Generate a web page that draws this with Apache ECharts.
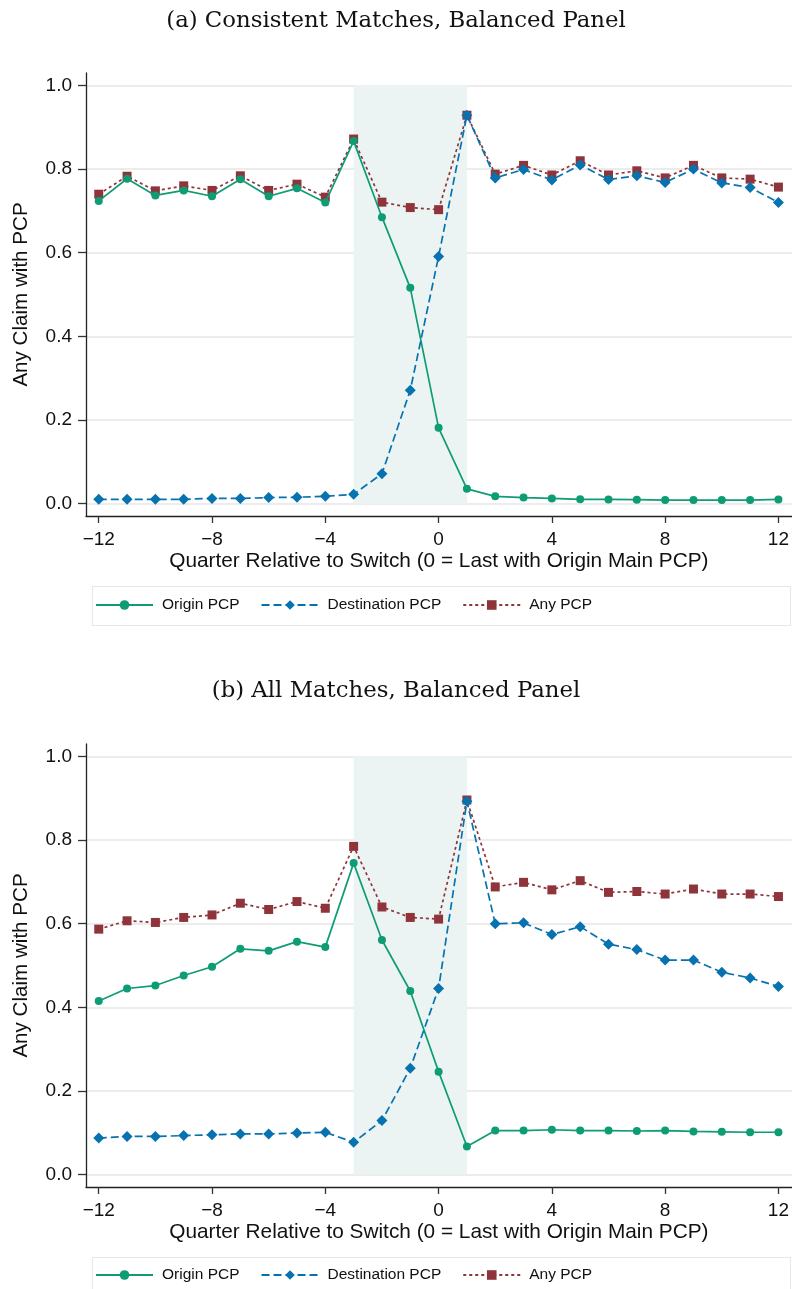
<!DOCTYPE html>
<html>
<head>
<meta charset="utf-8">
<script src="https://cdn.jsdelivr.net/npm/echarts@6/dist/echarts.min.js"></script>
<style>
  html, body { margin: 0; padding: 0; background: #fff; }
  #chart { width: 792px; height: 1289px; }
</style>
</head>
<body>
<div id="chart"></div>
<script>
// quarter relative to switch
const quarters = [-12, -11, -10, -9, -8, -7, -6, -5, -4, -3, -2, -1, 0, 1, 2, 3, 4, 5, 6, 7, 8, 9, 10, 11, 12];
const xTicks = [-12, -8, -4, 0, 4, 8, 12];
const yTicks = [0, 0.2, 0.4, 0.6, 0.8, 1.0];

// (a) consistent matches
const originA = [0.724, 0.777, 0.737, 0.749, 0.735, 0.776, 0.735, 0.754, 0.720, 0.867, 0.685, 0.516, 0.181, 0.035, 0.017, 0.014, 0.012, 0.010, 0.0096, 0.009, 0.008, 0.008, 0.008, 0.008, 0.0096];
const destA = [0.010, 0.010, 0.010, 0.010, 0.012, 0.012, 0.014, 0.015, 0.017, 0.022, 0.071, 0.271, 0.591, 0.929, 0.779, 0.799, 0.774, 0.810, 0.775, 0.784, 0.768, 0.800, 0.767, 0.756, 0.720];
const anyA = [0.740, 0.783, 0.748, 0.760, 0.749, 0.784, 0.749, 0.764, 0.733, 0.872, 0.721, 0.708, 0.703, 0.929, 0.788, 0.809, 0.786, 0.820, 0.786, 0.796, 0.779, 0.809, 0.779, 0.776, 0.757];

// (b) all matches
const originB = [0.415, 0.445, 0.452, 0.476, 0.497, 0.540, 0.535, 0.557, 0.544, 0.745, 0.561, 0.439, 0.246, 0.067, 0.105, 0.105, 0.107, 0.105, 0.105, 0.104, 0.105, 0.103, 0.102, 0.101, 0.101];
const destB = [0.087, 0.091, 0.091, 0.093, 0.095, 0.097, 0.097, 0.099, 0.101, 0.077, 0.129, 0.254, 0.445, 0.893, 0.600, 0.602, 0.574, 0.593, 0.551, 0.538, 0.513, 0.513, 0.484, 0.470, 0.450];
const anyB = [0.587, 0.607, 0.603, 0.615, 0.621, 0.649, 0.634, 0.653, 0.637, 0.785, 0.640, 0.615, 0.611, 0.896, 0.688, 0.699, 0.681, 0.703, 0.675, 0.677, 0.671, 0.683, 0.671, 0.671, 0.665];

const switchWindow = [-3, 1];

const GREEN = '#0e9c74';
const BLUE = '#0772b0';
const RED = '#8f343b';
const SANS = 'Liberation Sans, Arial, sans-serif';
const SERIF = 'DejaVu Serif, serif';

const chart = echarts.init(document.getElementById('chart'), null, { renderer: 'canvas' });

function pairs(ys) {
  return quarters.map((q, i) => [q, ys[i]]);
}

function minusFmt(v) {
  return v < 0 ? '\u2212' + Math.abs(v) : String(v);
}

function makeX(idx) {
  return {
    gridIndex: idx,
    type: 'value',
    min: -12.45,
    max: 12.47,
    name: 'Quarter Relative to Switch (0 = Last with Origin Main PCP)',
    nameLocation: 'middle',
    nameGap: 35,
    nameTextStyle: { fontFamily: SANS, fontSize: 20.8, color: '#111' },
    axisLine: { show: true, onZero: false, lineStyle: { color: '#222', width: 1.3 } },
    axisTick: { show: true, customValues: xTicks, length: 7, lineStyle: { color: '#333', width: 1.3 } },
    axisLabel: { customValues: xTicks, formatter: minusFmt, margin: 14, fontFamily: SANS, fontSize: 19, color: '#111' },
    splitLine: { show: false }
  };
}

function makeY(idx) {
  return {
    gridIndex: idx,
    type: 'value',
    min: -0.03,
    max: 1.03,
    name: 'Any Claim with PCP',
    nameLocation: 'middle',
    nameGap: 54,
    nameTextStyle: { fontFamily: SANS, fontSize: 20.6, color: '#111' },
    axisLine: { show: true, onZero: false, lineStyle: { color: '#222', width: 1.3 } },
    axisTick: { show: true, customValues: yTicks, length: 8, lineStyle: { color: '#333', width: 1.3 } },
    axisLabel: { customValues: yTicks, formatter: v => v.toFixed(1), margin: 14, fontFamily: SANS, fontSize: 19, color: '#111' },
    splitLine: { show: true, lineStyle: { color: '#e6e6e6', width: 1.5 } }
  };
}

function makeSeries(idx, origin, dest, any) {
  return [
    {
      name: 'Origin PCP', type: 'line', xAxisIndex: idx, yAxisIndex: idx,
      data: pairs(origin), symbol: 'circle', symbolSize: 8,
      itemStyle: { color: GREEN }, lineStyle: { color: GREEN, width: 1.7 },
      animation: false, z: 3,
      markArea: {
        silent: true,
        itemStyle: { color: '#ebf4f3' },
        data: [[{ coord: [switchWindow[0], 0] }, { coord: [switchWindow[1], 1] }]]
      }
    },
    {
      name: 'Destination PCP', type: 'line', xAxisIndex: idx, yAxisIndex: idx,
      data: pairs(dest), symbol: 'diamond', symbolSize: 11,
      itemStyle: { color: BLUE }, lineStyle: { color: BLUE, width: 1.7, type: [8, 4] },
      animation: false, z: 4
    },
    {
      name: 'Any PCP', type: 'line', xAxisIndex: idx, yAxisIndex: idx,
      data: pairs(any), symbol: 'rect', symbolSize: 9,
      itemStyle: { color: RED }, lineStyle: { color: RED, width: 1.7, type: [3, 3] },
      animation: false, z: 2
    }
  ];
}

function makeLegend(top) {
  return {
    left: 90,
    top: top,
    orient: 'horizontal',
    itemWidth: 57,
    itemHeight: 12,
    itemGap: 21,
    selectedMode: false,
    textStyle: { fontFamily: SANS, fontSize: 15.5, color: '#111', padding: [0, 0, 0, 4] },
    data: ['Origin PCP', 'Destination PCP', 'Any PCP']
  };
}

const option = {
  backgroundColor: '#fff',
  animation: false,
  title: [
    {
      text: '(a) Consistent Matches, Balanced Panel',
      left: 'center', top: 5,
      textStyle: { fontFamily: SERIF, fontWeight: 'normal', fontSize: 22.8, color: '#111' }
    },
    {
      text: '(b) All Matches, Balanced Panel',
      left: 'center', top: 675,
      textStyle: { fontFamily: SERIF, fontWeight: 'normal', fontSize: 22.8, color: '#111' }
    }
  ],
  grid: [
    { left: 86, right: 0, top: 73, height: 443, containLabel: false },
    { left: 86, right: 0, top: 744, height: 443, containLabel: false }
  ],
  xAxis: [makeX(0), makeX(1)],
  yAxis: [makeY(0), makeY(1)],
  legend: [makeLegend(592), makeLegend(1262)],
  graphic: [
    { type: 'rect', left: 90, top: 584, shape: { width: 698, height: 39 }, style: { fill: 'none', stroke: '#e8e8e8', lineWidth: 1.2 }, silent: true },
    { type: 'rect', left: 90, top: 1255, shape: { width: 698, height: 39 }, style: { fill: 'none', stroke: '#e8e8e8', lineWidth: 1.2 }, silent: true }
  ],
  series: [].concat(makeSeries(0, originA, destA, anyA), makeSeries(1, originB, destB, anyB))
};

chart.setOption(option);
</script>
</body>
</html>
